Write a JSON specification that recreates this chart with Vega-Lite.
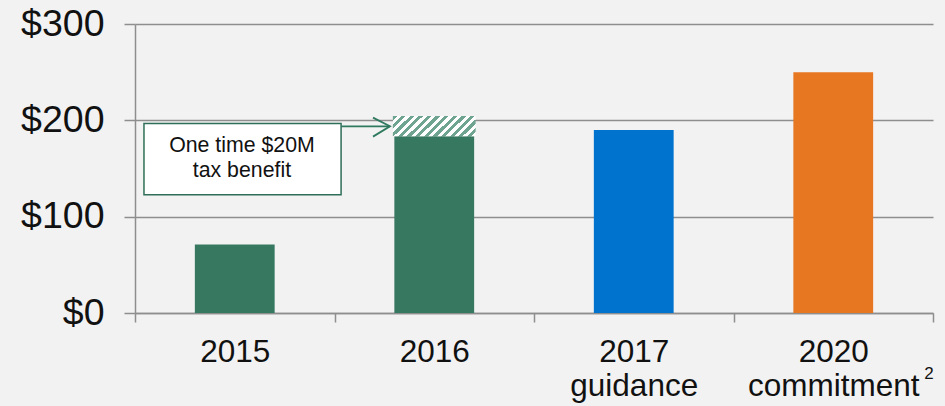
{
  "$schema": "https://vega.github.io/schema/vega-lite/v6.json",
  "width": 798,
  "height": 289,
  "autosize": "none",
  "padding": {"left": 135, "top": 24, "right": 12, "bottom": 93},
  "background": "#f2f2f2",
  "config": {
    "view": {"stroke": null},
    "font": "Liberation Sans",
    "axis": {"titleFont": "Liberation Sans", "labelFont": "Liberation Sans"}
  },
  "layer": [
    {
      "encoding": {
        "x": {
          "field": "cat",
          "type": "nominal",
          "sort": null,
          "scale": {
            "domain": ["2015", "2016", "2017 guidance", "2020 commitment"],
            "paddingInner": 0,
            "paddingOuter": 0
          },
          "axis": {
            "title": null,
            "labelAngle": 0,
            "labelExpr": "split(datum.label, ' ')",
            "labelFontSize": 31.5,
            "labelColor": "#111111",
            "labelLineHeight": 34,
            "labelBaseline": "alphabetic",
            "labelPadding": 39,
            "tickBand": "extent",
            "tickSize": 9,
            "tickColor": "#8e8e8e",
            "tickWidth": 1.5,
            "domainColor": "#8e8e8e",
            "domainWidth": 1.5,
            "grid": false
          }
        }
      },
      "layer": [
        {
          "data": {
            "values": [
              {"cat": "2015", "value": 71},
              {"cat": "2016", "value": 183.5},
              {"cat": "2017 guidance", "value": 190},
              {"cat": "2020 commitment", "value": 250}
            ]
          },
          "mark": {"type": "bar", "width": {"band": 0.4}},
          "encoding": {
            "y": {
              "field": "value",
              "type": "quantitative",
              "scale": {"domain": [0, 300], "nice": false},
              "axis": {
                "title": null,
                "values": [0, 100, 200, 300],
                "labelExpr": "'$' + datum.value",
                "labelFontSize": 37.5,
                "labelColor": "#111111",
                "labelPadding": 20,
                "tickSize": 11,
                "tickColor": "#8e8e8e",
                "tickWidth": 1.5,
                "domainColor": "#8e8e8e",
                "domainWidth": 1.5,
                "grid": true,
                "gridColor": "#8e8e8e",
                "gridWidth": 1.5
              }
            },
            "color": {
              "field": "cat",
              "type": "nominal",
              "scale": {
                "domain": ["2015", "2016", "2017 guidance", "2020 commitment"],
                "range": ["#377861", "#377861", "#0073cf", "#e87722"]
              },
              "legend": null
            }
          }
        },
        {
          "data": {"values": [{"cat": "2016", "lo": 183.5, "hi": 204.5}]},
          "mark": {
            "type": "bar",
            "width": {"band": 0.415},
            "fill": {
              "gradient": "linear",
              "x1": 0, "y1": 0, "x2": 1.1765, "y2": 0.294,
              "stops": [
                {"offset": 0, "color": "#6fa590"}, {"offset": 0.0417, "color": "#6fa590"},
                {"offset": 0.0417, "color": "#ffffff"}, {"offset": 0.0833, "color": "#ffffff"},
                {"offset": 0.0833, "color": "#6fa590"}, {"offset": 0.125, "color": "#6fa590"},
                {"offset": 0.125, "color": "#ffffff"}, {"offset": 0.1667, "color": "#ffffff"},
                {"offset": 0.1667, "color": "#6fa590"}, {"offset": 0.2083, "color": "#6fa590"},
                {"offset": 0.2083, "color": "#ffffff"}, {"offset": 0.25, "color": "#ffffff"},
                {"offset": 0.25, "color": "#6fa590"}, {"offset": 0.2917, "color": "#6fa590"},
                {"offset": 0.2917, "color": "#ffffff"}, {"offset": 0.3333, "color": "#ffffff"},
                {"offset": 0.3333, "color": "#6fa590"}, {"offset": 0.375, "color": "#6fa590"},
                {"offset": 0.375, "color": "#ffffff"}, {"offset": 0.4167, "color": "#ffffff"},
                {"offset": 0.4167, "color": "#6fa590"}, {"offset": 0.4583, "color": "#6fa590"},
                {"offset": 0.4583, "color": "#ffffff"}, {"offset": 0.5, "color": "#ffffff"},
                {"offset": 0.5, "color": "#6fa590"}, {"offset": 0.5417, "color": "#6fa590"},
                {"offset": 0.5417, "color": "#ffffff"}, {"offset": 0.5833, "color": "#ffffff"},
                {"offset": 0.5833, "color": "#6fa590"}, {"offset": 0.625, "color": "#6fa590"},
                {"offset": 0.625, "color": "#ffffff"}, {"offset": 0.6667, "color": "#ffffff"},
                {"offset": 0.6667, "color": "#6fa590"}, {"offset": 0.7083, "color": "#6fa590"},
                {"offset": 0.7083, "color": "#ffffff"}, {"offset": 0.75, "color": "#ffffff"},
                {"offset": 0.75, "color": "#6fa590"}, {"offset": 0.7917, "color": "#6fa590"},
                {"offset": 0.7917, "color": "#ffffff"}, {"offset": 0.8333, "color": "#ffffff"},
                {"offset": 0.8333, "color": "#6fa590"}, {"offset": 0.875, "color": "#6fa590"},
                {"offset": 0.875, "color": "#ffffff"}, {"offset": 0.9167, "color": "#ffffff"},
                {"offset": 0.9167, "color": "#6fa590"}, {"offset": 0.9583, "color": "#6fa590"},
                {"offset": 0.9583, "color": "#ffffff"}, {"offset": 1, "color": "#ffffff"}
              ]
            }
          },
          "encoding": {
            "y": {"field": "lo", "type": "quantitative"},
            "y2": {"field": "hi"}
          }
        }
      ]
    },
    {
      "encoding": {
        "x": {"type": "quantitative", "scale": {"domain": [0, 4], "nice": false, "zero": false}, "axis": null},
        "y": {"type": "quantitative", "scale": {"domain": [0, 300], "nice": false}, "axis": null}
      },
      "layer": [
        {
          "data": {"values": [{"x0": 0.045, "x1": 1.033, "y0": 122.8, "y1": 196.6}]},
          "mark": {"type": "rect", "fill": "#ffffff", "stroke": "#2f6f58", "strokeWidth": 1.5},
          "encoding": {
            "x": {"field": "x0", "type": "quantitative"},
            "x2": {"field": "x1"},
            "y": {"field": "y0", "type": "quantitative"},
            "y2": {"field": "y1"}
          }
        },
        {
          "data": {"values": [{"x": 0.536, "y": 173, "label": "One time $20M\ntax benefit"}]},
          "mark": {"type": "text", "lineBreak": "\n", "fontSize": 21.3, "lineHeight": 25, "align": "center", "baseline": "middle", "color": "#111111"},
          "encoding": {
            "x": {"field": "x", "type": "quantitative"},
            "y": {"field": "y", "type": "quantitative"},
            "text": {"field": "label"}
          }
        },
        {
          "data": {
            "values": [
              {"seg": "a", "o": 0, "x": 1.033, "y": 193.8},
              {"seg": "a", "o": 1, "x": 1.278, "y": 193.8},
              {"seg": "b", "o": 0, "x": 1.193, "y": 202.8},
              {"seg": "b", "o": 1, "x": 1.278, "y": 193.8},
              {"seg": "b", "o": 2, "x": 1.193, "y": 183.1}
            ]
          },
          "mark": {"type": "line", "color": "#2f7a5e", "strokeWidth": 1.8},
          "encoding": {
            "x": {"field": "x", "type": "quantitative"},
            "y": {"field": "y", "type": "quantitative"},
            "detail": {"field": "seg"},
            "order": {"field": "o"}
          }
        },
        {
          "data": {"values": [{"x": 3.98, "y": -63, "label": "2"}]},
          "mark": {"type": "text", "fontSize": 17, "align": "center", "baseline": "middle", "color": "#111111"},
          "encoding": {
            "x": {"field": "x", "type": "quantitative"},
            "y": {"field": "y", "type": "quantitative"},
            "text": {"field": "label"}
          }
        }
      ]
    }
  ],
  "resolve": {"scale": {"x": "independent", "y": "independent"}}
}
